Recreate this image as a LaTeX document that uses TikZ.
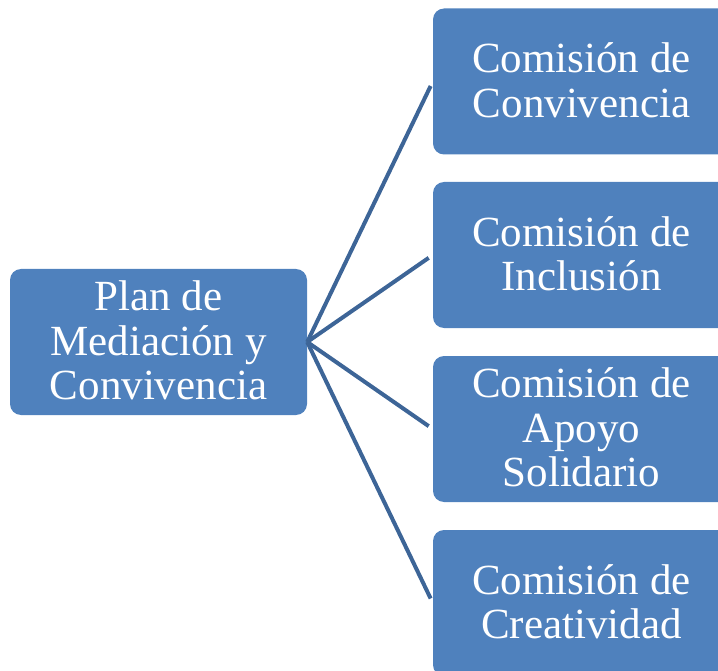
\documentclass[tikz,border=0pt]{standalone}
\usepackage{fontspec}
\setmainfont{Liberation Serif}
\definecolor{boxblue}{HTML}{4F81BD}
\definecolor{linkblue}{HTML}{3D6597}
\begin{document}
\begin{tikzpicture}[x=1pt,y=-1pt,
  box/.style={fill=boxblue, rounded corners=11pt, minimum width=297pt, minimum height=146pt, inner sep=0pt},
  txt/.style={text=white, align=center, inner sep=0pt, font=\fontsize{43}{44.5}\selectfont},
  conn/.style={draw=linkblue, line width=4pt, shorten >=5pt}]
\path[use as bounding box, clip] (0,0) rectangle (718,671);
\node[box] (L) at (158.5,342) {};
\node[box] (R1) at (581.5,81.5) {};
\node[box] (R2) at (581.5,255) {};
\node[box] (R3) at (581.5,429) {};
\node[box] (R4) at (581.5,603) {};
\node[txt, yshift=-4.5pt] (TL) at (L) {\strut Plan de\\Mediación y\\Convivencia\strut};
\node[txt, yshift=-4.5pt] (T1) at (R1) {\strut Comisión de\\Convivencia\strut};
\node[txt, yshift=-4.5pt] (T2) at (R2) {\strut Comisión de\\Inclusión\strut};
\node[txt, yshift=-4.5pt] (T3) at (R3) {\strut Comisión de\\Apoyo\\Solidario\strut};
\node[txt, yshift=-4.5pt] (T4) at (R4) {\strut Comisión de\\Creatividad\strut};
\foreach \r in {R1,R2,R3,R4}
  \draw[conn] (L.east) -- (\r.west);
\end{tikzpicture}
\end{document}
